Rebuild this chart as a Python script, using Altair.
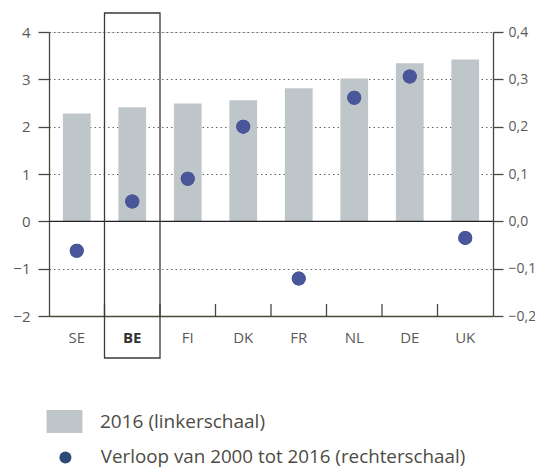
import altair as alt
import pandas as pd

countries = ["SE", "BE", "FI", "DK", "FR", "NL", "DE", "UK"]
level_2016 = [2.28, 2.41, 2.49, 2.56, 2.81, 3.02, 3.34, 3.42]
change_2000_2016 = [-0.062, 0.042, 0.090, 0.200, -0.121, 0.261, 0.306, -0.035]
left_ticks = [-2, -1, 0, 1, 2, 3, 4]
right_ticks = [-0.2, -0.1, 0.0, 0.1, 0.2, 0.3, 0.4]
bar_label = "2016 (linkerschaal)"
dot_label = "Verloop van 2000 tot 2016 (rechterschaal)"
highlight = "BE"

df = pd.DataFrame({
    "land": countries,
    "niveau": level_2016,
    "verloop": change_2000_2016,
    "s1": [bar_label] * len(countries),
    "s2": [dot_label] * len(countries),
})

FONT = "Open Sans"
AXC = "#4a473f"
LABC = "#5a5a5a"

W, H = 444, 284

xscale = alt.Scale(domain=countries, paddingInner=0, paddingOuter=0)
x_enc = alt.X("land:N", sort=countries, scale=xscale,
              axis=alt.Axis(orient="bottom", title=None, ticks=False, labelAngle=0,
                            labelPadding=14, labelFontSize=15, labelFont=FONT,
                            labelColor={"condition": {"test": "datum.value === 'BE'", "value": "#333333"}, "value": LABC},
                            labelFontWeight={"condition": {"test": "datum.value === 'BE'", "value": "bold"}, "value": "normal"},
                            domainColor=AXC, domainWidth=1.3))

lscale = alt.Scale(domain=[-2, 4], nice=False, zero=False)
rscale = alt.Scale(domain=[-0.2, 0.4], nice=False, zero=False)

bars = alt.Chart(df).mark_bar(width={"band": 0.5}).encode(
    x=x_enc,
    y=alt.Y("niveau:Q", scale=lscale,
            axis=alt.Axis(orient="left", title=None, values=left_ticks, tickSize=11,
                          tickColor=AXC, tickWidth=1.3, domainColor=AXC, domainWidth=1.3,
                          labelFontSize=15, labelFont=FONT, labelColor=LABC, labelPadding=8,
                          grid=True, gridDash=[1.5, 3], gridColor="#666666", gridWidth=1.2)),
    color=alt.Color("s1:N", scale=alt.Scale(domain=[bar_label], range=["#bfc6ca"]),
                    legend=alt.Legend(orient="none", legendX=4, legendY=378, title=None,
                                      symbolType="M-1.56,-1L1.56,-1L1.56,1L-1.56,1Z",
                                      symbolSize=529, symbolStrokeWidth=0,
                                      labelFontSize=19, labelFont=FONT, labelColor="#4d4a45",
                                      labelOffset=24, padding=0, labelLimit=600)),
)

zero = alt.Chart(pd.DataFrame({"v": [0]})).mark_rule(color="#222222", strokeWidth=1.3).encode(
    y=alt.Y("v:Q", scale=lscale)
)

ticks = alt.Chart(df[df["land"] != countries[0]]).mark_rule(color=AXC, strokeWidth=1.3).encode(
    x=alt.X("land:N", sort=countries, scale=xscale, bandPosition=0),
    y=alt.value(H - 12), y2=alt.value(H),
)

box = alt.Chart(df[df["land"] == highlight]).mark_rect(filled=False, stroke="#3c3a35", strokeWidth=1.3).encode(
    x=alt.X("land:N", sort=countries, scale=xscale),
    y=alt.value(-19), y2=alt.value(H + 42),
)

left = alt.layer(bars, zero, ticks, box)

y_right = alt.Y("verloop:Q", scale=rscale,
                axis=alt.Axis(orient="right", title=None, values=right_ticks, tickSize=10,
                              tickColor=AXC, tickWidth=1.3, domainColor=AXC, domainWidth=1.3,
                              labelFontSize=14, labelFont=FONT, labelColor=LABC, labelPadding=5,
                              grid=False,
                              labelExpr="replace(format(datum.value, '.1f'), '.', ',')"))

# legend carrier (hidden beneath the visible dots)
legend_dots = alt.Chart(df).mark_circle(size=196, opacity=1).encode(
    x=alt.X("land:N", sort=countries, scale=xscale),
    y=y_right,
    color=alt.Color("s2:N", scale=alt.Scale(domain=[dot_label], range=["#2c4a78"]),
                    legend=alt.Legend(orient="none", legendX=7, legendY=416, title=None,
                                      symbolType="circle", symbolSize=144, symbolStrokeWidth=0,
                                      labelFontSize=18.8, labelFont=FONT, labelColor="#4d4a45",
                                      labelOffset=26, padding=0, labelLimit=600)),
)

points = alt.Chart(df).mark_circle(size=196, opacity=1, color="#4a569a").encode(
    x=alt.X("land:N", sort=countries, scale=xscale),
    y=alt.Y("verloop:Q", scale=rscale),
)

right = alt.layer(legend_dots, points)

chart = alt.layer(left, right).resolve_scale(y="independent", color="independent").properties(
    width=W, height=H,
    autosize=alt.AutoSizeParams(type="none"),
    padding={"left": 41, "top": 24, "right": 42, "bottom": 151},
).configure_view(stroke=None).configure(font=FONT)

chart.save("out.html", embed_options={"renderer": "svg", "actions": False})
